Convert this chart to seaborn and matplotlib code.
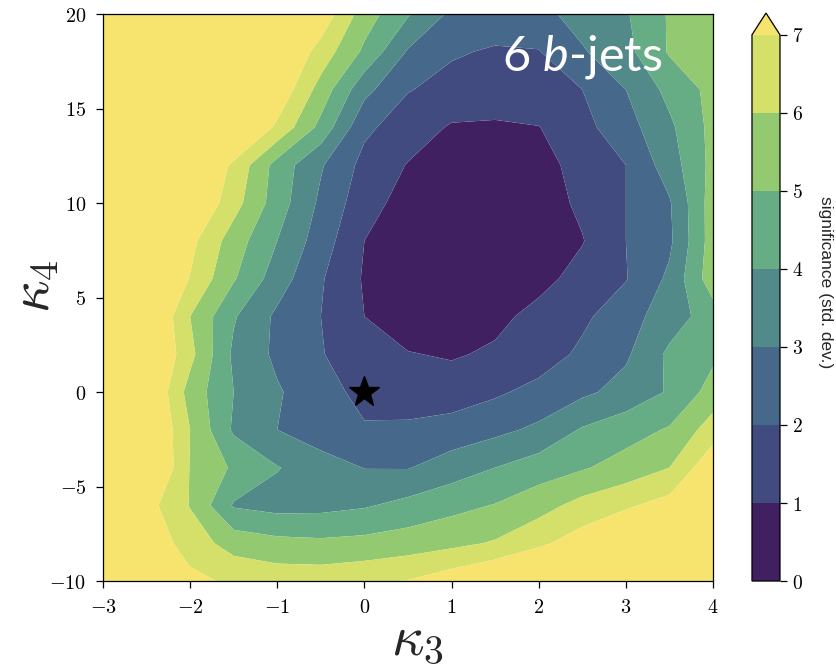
import numpy as np
import matplotlib
matplotlib.use("Agg")
import matplotlib.pyplot as plt
import seaborn as sns
from matplotlib.ticker import FuncFormatter

# ---------------- data ----------------
kappa3 = [-3.0, -2.5, -2.0, -1.5, -1.0, -0.5, 0.0, 0.5, 1.0, 1.5, 2.0, 2.5, 3.0, 3.5, 4.0]
kappa4 = [-10, -8, -6, -4, -2, 0, 2, 4, 6, 8, 10, 12, 14, 16, 18, 20]

# significance (std. dev.) along each kappa4 row, for the kappa3 values above
sig_m10 = [8.5, 8.0, 7.3, 6.8, 6.6, 6.6, 6.8, 7.05, 7.6, 8.2, 8.7, 9.0, 9.3, 9.5, 9.8]
sig_m8 = [8.5, 7.8, 6.5, 5.6, 5.3, 5.2, 5.3, 5.5, 5.75, 6.1, 6.8, 7.5, 8.2, 8.8, 9.3]
sig_m6 = [9.0, 7.4, 5.95, 3.9, 3.65, 3.7, 3.9, 4.3, 4.7, 5.05, 5.6, 6.35, 6.85, 7.4, 8.0]
sig_m4 = [10, 8.7, 5.95, 4.85, 4.05, 3.5, 2.97, 2.95, 3.5, 4.0, 4.5, 4.9, 5.4, 6.0, 7.8]
sig_m2 = [10, 8.5, 6.0, 3.85, 3.0, 2.4, 2.1, 2.2, 2.4, 2.75, 3.2, 4.1, 4.6, 5.1, 6.5]
sig_0 = [10, 8.3, 5.6, 4.0, 3.1, 2.4, 1.7, 1.45, 1.5, 1.85, 2.3, 2.8, 3.35, 4.1, 5.4]
sig_2 = [10, 8.5, 6.3, 3.8, 2.8, 2.05, 1.5, 1.05, 0.9, 1.15, 1.5, 2.2, 2.85, 4.2, 4.8]
sig_4 = [10, 8.5, 6.0, 4.1, 2.8, 2.0, 1.0, 0.45, 0.3, 0.75, 1.3, 1.8, 2.6, 3.5, 4.5]
sig_6 = [10, 8.6, 6.95, 5.1, 3.5, 2.1, 0.9, 0.3, 0.1, 0.15, 0.7, 1.35, 1.95, 3.2, 5.6]
sig_8 = [10, 8.8, 7.3, 5.5, 4.0, 2.5, 1.0, 0.4, 0.15, 0.1, 0.35, 0.95, 2.0, 2.8, 5.5]
sig_10 = [10, 9.0, 8.2, 6.4, 4.5, 2.8, 1.4, 0.6, 0.3, 0.2, 0.5, 1.2, 2.0, 2.9, 5.5]
sig_12 = [10, 9.2, 8.5, 6.8, 4.6, 3.1, 1.7, 0.95, 0.5, 0.4, 0.7, 1.3, 2.0, 3.5, 5.3]
sig_14 = [10, 9.5, 9.0, 8.5, 6.8, 4.7, 2.2, 1.5, 0.9, 0.85, 0.97, 1.7, 2.6, 3.8, 5.3]
sig_16 = [10, 9.5, 9.0, 8.5, 7.8, 5.6, 3.3, 2.05, 1.7, 1.6, 1.7, 2.0, 3.0, 4.3, 5.3]
sig_18 = [10, 9.8, 9.5, 9.0, 8.3, 6.6, 4.8, 2.9, 2.1, 1.9, 1.95, 2.9, 3.7, 5.1, 5.7]
sig_20 = [10, 10, 9.5, 9.0, 8.5, 7.7, 5.5, 4.1, 2.8, 2.5, 2.7, 3.4, 3.9, 5.1, 5.7]

levels = [0, 1, 2, 3, 4, 5, 6, 7]
cbar_ticks = [0, 1, 2, 3, 4, 5, 6, 7]
x_ticks = [-3, -2, -1, 0, 1, 2, 3, 4]
y_ticks = [-10, -5, 0, 5, 10, 15, 20]
sm_point_k3 = [0]
sm_point_k4 = [0]
panel_label = r"6 $\mathit{b}$-jets"
cbar_label = "significance (std. dev.)"

# band colours as they appear in the reference (softened viridis), last = over
band_colors = ["#412062", "#424b80", "#46698b", "#528a8a",
               "#66ad85", "#93c970", "#d4e06a", "#f6e46e"]

# ---------------- style ----------------
sns.set_style("ticks")
plt.rcParams["mathtext.fontset"] = "cm"
plt.rcParams["mathtext.rm"] = "Lato"
plt.rcParams["mathtext.it"] = "Lato:italic"
plt.rcParams["axes.linewidth"] = 0.9
plt.rcParams["axes.edgecolor"] = "black"
plt.rcParams["xtick.color"] = "black"
plt.rcParams["ytick.color"] = "black"

Z = np.array([sig_m10, sig_m8, sig_m6, sig_m4, sig_m2, sig_0, sig_2, sig_4,
              sig_6, sig_8, sig_10, sig_12, sig_14, sig_16, sig_18, sig_20])
X, Y = np.meshgrid(kappa3, kappa4)

fig = plt.figure(figsize=(8.36, 6.68), dpi=100)
ax = fig.add_axes([0.1232, 0.1302, 0.7297, 0.8488])
cf = ax.contourf(X, Y, Z, levels=levels, colors=sns.color_palette(band_colors),
                 extend="max", antialiased=True)

ax.plot(sm_point_k3, sm_point_k4, marker="*", color="black", ms=23, linestyle="none")

ax.set_xlim(-3, 4)
ax.set_ylim(-10, 20)
ax.set_xticks(x_ticks)
ax.set_yticks(y_ticks)
fmt = FuncFormatter(lambda v, p: "$%d$" % int(round(v)))
ax.xaxis.set_major_formatter(fmt)
ax.yaxis.set_major_formatter(fmt)
ax.tick_params(axis="both", direction="out", length=5, width=0.9, labelsize=14.5, pad=7)
for s in ax.spines.values():
    s.set_visible(True)
    s.set_linewidth(0.9)

ax.set_xlabel(r"$\kappa_3$", fontsize=41)
ax.set_ylabel(r"$\kappa_4$", fontsize=41)
ax.xaxis.set_label_coords(0.515, -0.053)
ax.yaxis.set_label_coords(-0.114, 0.52)
ax.xaxis.label.set_va("top")
ax.yaxis.label.set_va("center")

ax.text(0.785, 0.925, panel_label, transform=ax.transAxes, color="white",
        fontsize=35, family="Lato", ha="center", va="center",
        math_fontfamily="custom")

cax = fig.add_axes([0.8995, 0.1302, 0.0335, 0.8503])
cb = fig.colorbar(cf, cax=cax, ticks=cbar_ticks, extendfrac=0.04)
cb.ax.yaxis.set_major_formatter(fmt)
cb.ax.tick_params(direction="out", length=5, width=0.9, labelsize=14)
cb.outline.set_linewidth(0.9)
cb.outline.set_edgecolor("black")
cb.set_label(cbar_label, rotation=270, fontsize=12.5, family="Liberation Sans")
cb.ax.yaxis.set_label_coords(2.62, 0.548)
cb.ax.yaxis.label.set_va("center")
cb.ax.yaxis.label.set_ha("center")

fig.savefig("out.png", dpi=100)
